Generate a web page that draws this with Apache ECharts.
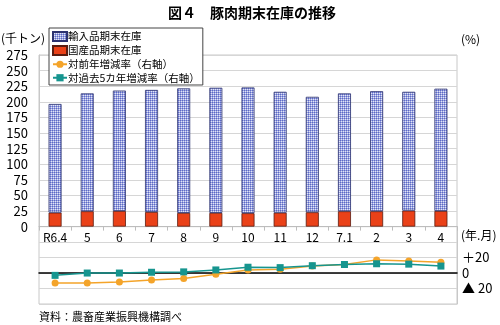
<!DOCTYPE html>
<html><head><meta charset="utf-8">
<script src="https://cdn.jsdelivr.net/npm/echarts@6/dist/echarts.min.js"></script>
<style>html,body{margin:0;padding:0;background:#fff}#c{width:500px;height:325px}</style>
</head><body><div id="c"></div>
<script>
const categories = ['R6.4','5','6','7','8','9','10','11','12','7.1','2','3','4'];
const importStock = [174.1, 188.9, 193.0, 195.6, 199.6, 200.5, 201.5, 193.7, 185.0, 188.9, 192.4, 190.4, 196.0];
const domesticStock = [22.4, 24.6, 25.0, 23.4, 21.9, 22.0, 21.5, 22.3, 23.0, 24.6, 24.6, 25.6, 25.0];
const yoyRate = [-13, -13, -11.5, -9, -7, -1.5, 4, 5, 9, 11, 17, 15.5, 14];
const vs5yRate = [-3, 0, 0, 1, 1.5, 4, 7.5, 7, 9.5, 11, 12, 11.5, 9];
const leftTicks = [0,25,50,75,100,125,150,175,200,225,250,275];
const rightTickLabels = {20:'＋20', 0:'0', '-20':'▲ 20'};

const FONT = '"Noto Sans CJK JP", "Noto Sans", sans-serif';
const pc = document.createElement('canvas');
pc.width = 2; pc.height = 2;
const g = pc.getContext('2d');
g.fillStyle = '#5d6ac6'; g.fillRect(0,0,1,1);
g.fillStyle = '#9aa3de'; g.fillRect(1,0,1,1); g.fillRect(0,1,1,1);
g.fillStyle = '#e2e5f7'; g.fillRect(1,1,1,1);
const pattern = {image: pc, repeat: 'repeat'};

const chart = echarts.init(document.getElementById('c'), null, {renderer:'canvas'});
chart.setOption({
  animation: false,
  textStyle: {fontFamily: FONT, color: '#000'},
  title: {text: '図４　豚肉期末在庫の推移', left: 247, textAlign: 'center', top: 1,
    textStyle: {fontSize: 14, fontWeight: 'bold', fontFamily: FONT, color: '#000'}},
  legend: {
    orient: 'vertical', left: 49, top: 28, itemGap: 3, itemWidth: 14, itemHeight: 9,
    padding: [3, 3, 2, 3], borderColor: '#444', borderWidth: 1, backgroundColor: '#fff',
    textStyle: {fontSize: 10.5, fontFamily: FONT, color: '#000', padding: [0,0,0,-4]},
    data: [
      {name: '輸入品期末在庫', icon: 'rect'},
      {name: '国産品期末在庫', icon: 'rect'},
      {name: '対前年増減率（右軸）'},
      {name: '対過去5カ年増減率（右軸）'}
    ]
  },
  graphic: [
    {type:'text', left: 1, top: 32, style:{text:'(千トン)', font:'12px '+FONT, fill:'#000'}},
    {type:'text', left: 461, top: 33, style:{text:'(%)', font:'12px '+FONT, fill:'#000'}},
    {type:'text', left: 461, top: 229, style:{text:'(年.月)', font:'12px '+FONT, fill:'#000'}},
    {type:'text', left: 39, top: 311, style:{text:'資料：農畜産業振興機構調べ', font:'11px '+FONT, fill:'#000'}}
  ],
  grid: [
    {left: 39, right: 43, top: 55, height: 171.6, show: true, borderColor: '#c8c8c8', borderWidth: 1},
    {left: 39, right: 43, top: 226.6, height: 77.4, show: true, borderColor: '#c8c8c8', borderWidth: 1}
  ],
  xAxis: [
    {type: 'category', gridIndex: 0, data: categories,
      axisLine: {lineStyle: {color: '#bdbdbd'}},
      axisTick: {show: true, length: 4, lineStyle: {color: '#bdbdbd'}},
      axisLabel: {color: '#000', fontSize: 12, margin: 5, fontFamily: FONT}},
    {type: 'category', gridIndex: 1, data: categories,
      axisLine: {show: true, onZero: true, lineStyle: {color: '#000', width: 1.5}},
      axisTick: {show: false}, axisLabel: {show: false}}
  ],
  yAxis: [
    {type: 'value', gridIndex: 0, min: 0, max: 275, interval: 25,
      axisLine: {show: true, lineStyle: {color: '#c8c8c8'}}, axisTick: {show: false},
      splitLine: {lineStyle: {color: '#d6d6d6'}},
      axisLabel: {color: '#000', fontSize: 13, margin: 11, fontFamily: FONT,
        formatter: v => leftTicks.includes(v) ? String(v) : ''}},
    {type: 'value', gridIndex: 1, position: 'right', min: -40, max: 60, interval: 20,
      axisLine: {show: true, lineStyle: {color: '#c8c8c8'}}, axisTick: {show: false},
      splitLine: {lineStyle: {color: '#d6d6d6'}},
      axisLabel: {color: '#000', fontSize: 13, margin: 5, align: 'left', fontFamily: FONT,
        formatter: v => (rightTickLabels[String(v)] !== undefined ? rightTickLabels[String(v)] : '')}}
  ],
  series: [
    {name: '国産品期末在庫', type: 'bar', stack: 's', xAxisIndex: 0, yAxisIndex: 0, barWidth: 13,
      data: domesticStock, itemStyle: {color: '#ea4118', borderColor: '#5a1c10', borderWidth: 0.8}},
    {name: '輸入品期末在庫', type: 'bar', stack: 's', xAxisIndex: 0, yAxisIndex: 0, barWidth: 13,
      data: importStock, itemStyle: {color: pattern, borderColor: '#2c3270', borderWidth: 0.8}},
    {name: '対前年増減率（右軸）', type: 'line', xAxisIndex: 1, yAxisIndex: 1, data: yoyRate,
      symbol: 'circle', symbolSize: 7, color: '#f4a42a',
      lineStyle: {color: '#f4a42a', width: 1.5}, itemStyle: {color: '#f4a42a'}},
    {name: '対過去5カ年増減率（右軸）', type: 'line', xAxisIndex: 1, yAxisIndex: 1, data: vs5yRate,
      symbol: 'rect', symbolSize: 7, color: '#16958f',
      lineStyle: {color: '#16958f', width: 1.5}, itemStyle: {color: '#16958f'}}
  ]
});
</script></body></html>
